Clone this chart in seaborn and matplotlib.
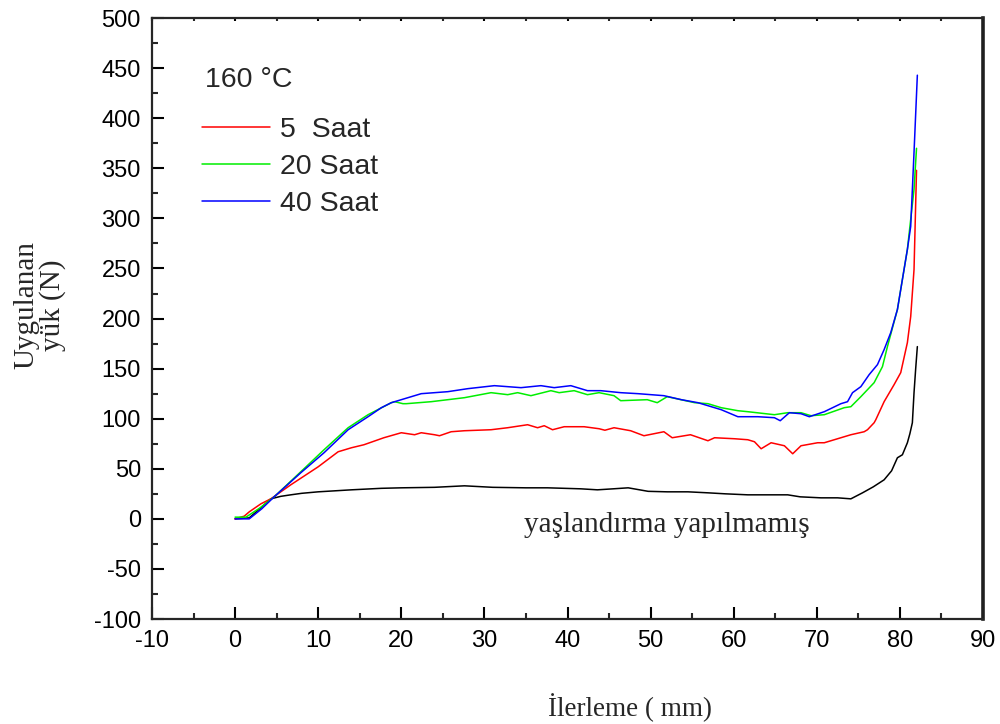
import numpy as np
import pandas as pd
import matplotlib
matplotlib.use("Agg")
import matplotlib.pyplot as plt
import seaborn as sns
from matplotlib.ticker import MultipleLocator
from matplotlib.lines import Line2D

# ---- data ----
x_none = [0, 1.7, 3.1, 4.3, 5.5, 6.7, 8, 10, 12, 14, 17.6, 20, 24, 27.6, 31, 35, 37.6,
          41.6, 43.6, 45.5, 47.3, 49.7, 52, 54.5, 56.9, 59, 61.7, 64, 66.5, 68, 70.5,
          72.5, 74.1, 75.5, 76.8, 78.1, 79.0, 79.7, 80.3, 80.9, 81.2, 81.5, 81.7, 81.9, 82.1]
y_none = [0, 1, 11, 20, 22.5, 24, 25.5, 27, 28, 29, 30.5, 31, 31.5, 33, 31.5, 31, 31,
          30, 29, 30, 31, 27.5, 27, 27, 26, 25, 24, 24, 24, 22, 21,
          21, 20, 26, 32, 39, 48, 61, 64, 76, 85, 96, 126, 150, 172]

x_5h = [0, 1.1, 1.7, 3.1, 4.3, 6.7, 10, 12.4, 14, 15.5, 17.9, 20, 21.6, 22.4, 24, 24.6,
        26, 27.6, 30.8, 32.8, 35.2, 36.4, 37.2, 38.2, 39.6, 42, 43.8, 44.5, 45.6, 47.6,
        49.2, 51.6, 52.6, 54.8, 56.9, 57.7, 60.1, 61.7, 62.5, 63.3, 64.5, 66.1, 67.1,
        68.1, 70.1, 70.9, 73.3, 74.1, 75.7, 76.1, 76.9, 77.1, 78.1, 79.3, 80.1, 80.9,
        81.3, 81.7, 82.0]
y_5h = [0, 2.7, 7, 15, 20, 34, 52, 67, 71, 74, 81, 86, 84, 86, 84, 83,
        87, 88, 89, 91, 94, 91, 93, 89, 92, 92, 90, 88.5, 91, 88,
        83, 87, 81, 84, 78, 81, 80, 79, 77, 70, 76, 73, 65,
        73, 76, 76, 82, 84, 87, 89, 96, 99, 117, 134, 146, 176,
        202, 249, 348]

x_20h = [0, 1.3, 3, 4.7, 7.9, 10.7, 13.6, 16, 18.8, 19.2, 20.2, 20.6, 23.6, 27.6, 30.8,
         32.8, 34, 35.6, 38, 39, 40.8, 42.4, 43.8, 45.6, 46.4, 49.6, 50.8, 52, 55.3,
         56.9, 58.5, 60.5, 61.7, 64.9, 66.5, 68.1, 69.3, 70.9, 73.3, 74.1, 75.3, 76.9,
         77.9, 78.5, 79.7, 80.9, 81.7, 82.0]
y_20h = [1.7, 1.7, 11, 22, 47, 69, 91, 104, 116, 117, 115, 115, 117, 121, 126,
         124, 126, 123, 128, 126, 128, 124, 126, 123, 118, 119, 116, 122, 116,
         115, 111, 108, 107, 104, 106, 106, 103, 104, 111, 112, 122, 136,
         152, 172, 209, 269, 329, 370]

x_40h = [0, 1.7, 3.2, 4.7, 7.9, 10.7, 13.6, 16, 17.6, 18.8, 20, 22.4, 25.6, 28, 31.2,
         34.4, 36.8, 38.4, 40.4, 42.4, 44, 46.4, 48.5, 51.6, 53.7, 55.7, 58.5, 60.5,
         62.9, 64.9, 65.6, 66.7, 68.1, 69.1, 70.9, 72.9, 73.7, 74.3, 75.3, 76.3, 77.3,
         78.1, 78.9, 79.7, 80.5, 80.9, 81.3, 81.7, 82.1]
y_40h = [0, 0, 10, 22, 46, 66, 89, 102, 111, 116, 119, 125, 127, 130, 133,
         131, 133, 131, 133, 128, 128, 126, 125, 123, 119, 116, 109, 102,
         102, 101, 98, 106, 105, 102, 107, 115, 117, 126, 132, 144, 154,
         169, 186, 209, 249, 269, 292, 366, 443]

labels = ["5  Saat", "20 Saat", "40 Saat"]
colors = ["#FF0000", "#00EE00", "#0000FF"]

# ---- figure ----
sns.set_style("ticks")
plt.rcParams["font.family"] = ["Liberation Sans", "DejaVu Sans"]
plt.rcParams["axes.unicode_minus"] = False

fig = plt.figure(figsize=(10, 7.24), dpi=100)
ax = fig.add_axes([0.152, 0.145, 0.831, 0.830])

sns.lineplot(x=x_none, y=y_none, color="black", lw=1.1, ax=ax, legend=False,
             sort=False, estimator=None)
series = [(x_5h, y_5h), (x_20h, y_20h), (x_40h, y_40h)]
for (xs, ys), c in zip(series, colors):
    sns.lineplot(x=xs, y=ys, color=c, lw=1.1, ax=ax, legend=False,
                 sort=False, estimator=None)

ax.set_xlim(-10, 90)
ax.set_ylim(-100, 500)
ax.xaxis.set_major_locator(MultipleLocator(10))
ax.xaxis.set_minor_locator(MultipleLocator(5))
ax.yaxis.set_major_locator(MultipleLocator(50))
ax.yaxis.set_minor_locator(MultipleLocator(25))

ax.tick_params(axis="both", which="major", direction="in", length=8.6, width=1.5,
               labelsize=17, pad=8, colors="black")
ax.tick_params(axis="both", which="minor", direction="in", length=4.3, width=1.5)
ax.tick_params(axis="x", which="both", top=True)
ax.tick_params(axis="x", which="major", labeltop=False)
for t in ax.xaxis.get_major_ticks() + ax.xaxis.get_minor_ticks():
    t.tick2line.set_markersize(2)

for s in ["left", "bottom", "top"]:
    ax.spines[s].set_linewidth(1.6)
ax.spines["right"].set_linewidth(2.6)
ax.spines["right"].set_color("#202020")

serif = ["Liberation Serif", "DejaVu Serif"]
ax.set_xlabel("İlerleme ( mm)", family=serif, fontsize=19.5)
ax.xaxis.set_label_coords(0.575, -0.148)
ax.xaxis.label.set_va("center")
ax.set_ylabel("Uygulanan\nyük (N)", family=serif, fontsize=21,
              multialignment="center", linespacing=0.95)
ax.yaxis.set_label_coords(-0.135, 0.522)
ax.yaxis.label.set_va("center")

ax.text(0.064, 0.897, "160 °C", transform=ax.transAxes, fontsize=20.5,
        ha="left", va="center")

handles = [Line2D([], [], color=c, lw=1.1) for c in colors]
ax.legend(handles, labels, loc="upper left", bbox_to_anchor=(0.060, 0.836),
          frameon=False, fontsize=20.5, handlelength=2.4, handletextpad=0.33,
          labelspacing=0.4, borderpad=0, borderaxespad=0)

ax.text(51.9, -6, "yaşlandırma yapılmamış", family=serif,
        fontsize=21, ha="center", va="center")

fig.savefig("out.png", dpi=100)
